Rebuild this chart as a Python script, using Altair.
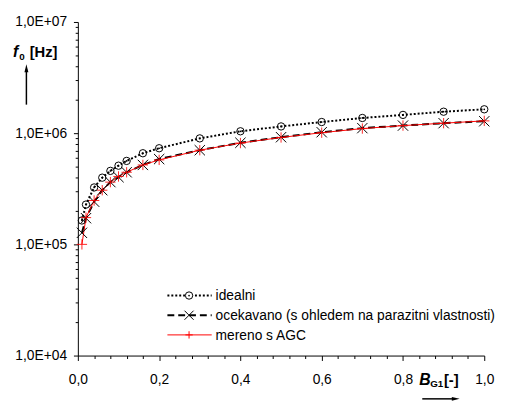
import altair as alt
import pandas as pd

# ---------------- data ----------------
B = [0.01, 0.02, 0.04, 0.06, 0.08, 0.10, 0.12, 0.16, 0.20, 0.30, 0.40, 0.50, 0.60, 0.70, 0.80, 0.90, 1.00]
ideal = [1.64e5, 2.28e5, 3.25e5, 3.98e5, 4.58e5, 5.10e5, 5.63e5, 6.60e5, 7.32e5, 8.98e5,
         1.04e6, 1.15e6, 1.26e6, 1.37e6, 1.46e6, 1.56e6, 1.64e6]
expected = [1.27e5, 1.72e5, 2.42e5, 3.07e5, 3.63e5, 4.02e5, 4.45e5, 5.18e5, 5.85e5, 7.03e5,
            8.20e5, 9.20e5, 1.02e6, 1.11e6, 1.17e6, 1.23e6, 1.28e6]
measured = [1.00e5, 1.74e5, 2.48e5, 3.07e5, 3.63e5, 4.08e5, 4.45e5, 5.18e5, 5.75e5, 7.03e5,
            8.15e5, 9.15e5, 1.01e6, 1.10e6, 1.17e6, 1.23e6, 1.29e6]
series_names = ["idealni", "ocekavano (s ohledem na parazitni vlastnosti)", "mereno s AGC"]

x_major = [0, 0.2, 0.4, 0.6, 0.8, 1]
x_ticks = [round(i * 0.04, 2) for i in range(26)]
y_major = [1e4, 1e5, 1e6, 1e7]
y_tick_labels = ["1,0E+04", "1,0E+05", "1,0E+06", "1,0E+07"]
y_ticks = [m * d for d in [1e4, 1e5, 1e6] for m in range(1, 10)] + [1e7]

FONT = "Liberation Sans"
W, H = 413, 339

df = pd.DataFrame({"B": B, "ideal": ideal, "exp": expected, "meas": measured})

major_x_test = "indexof(%s, datum.value) >= 0" % str(x_major)
major_y_test = "indexof(%s, datum.value) >= 0" % str([int(v) for v in y_major])

y_label_expr = " : ".join(
    "datum.value == %d ? '%s'" % (int(v), lab) for v, lab in zip(y_major, y_tick_labels)
) + " : ''"

x_axis = alt.Axis(
    values=x_ticks,
    labelExpr="%s ? replace(format(datum.value, '.1f'), '.', ',') : ''" % major_x_test,
    tickSize={"condition": {"test": major_x_test, "value": 5}, "value": 3},
    labelPadding=12, labelFlush=False, labelOverlap=False, grid=False, title=None,
)
y_axis = alt.Axis(
    values=y_ticks,
    labelExpr=y_label_expr,
    tickSize={"condition": {"test": major_y_test, "value": 4.5}, "value": 2.7},
    labelPadding=7, labelFlush=False, labelOverlap=False, grid=False, title=None,
)
x_scale = alt.Scale(domain=[0, 1], nice=False, zero=False)
y_scale = alt.Scale(type="log", domain=[1e4, 1e7], nice=False)


def enc(field):
    return dict(
        x=alt.X("B:Q", scale=x_scale, axis=x_axis),
        y=alt.Y(field + ":Q", scale=y_scale, axis=y_axis),
    )


base = alt.Chart(df)
ideal_line = base.mark_line(color="black", strokeDash=[2, 2], strokeWidth=2).encode(**enc("ideal"))
exp_line = base.mark_line(color="black", strokeDash=[7, 4], strokeWidth=2).encode(**enc("exp"))
meas_line = base.mark_line(color="#ff0000", strokeWidth=1).encode(**enc("meas"))
ideal_pts = base.mark_point(shape="circle", filled=False, color="black", size=56,
                            strokeWidth=1, opacity=1).encode(**enc("ideal"))
ideal_dots = base.mark_point(shape="circle", filled=True, color="black", size=3,
                             opacity=1).encode(**enc("ideal"))
XSHAPE = "M-1,-1L1,1M-1,1L1,-1"
PSHAPE = "M-1,0L1,0M0,-1L0,1"
exp_pts = base.mark_point(shape=XSHAPE, filled=False, color="black", size=110,
                          strokeWidth=1, opacity=1).encode(**enc("exp"))
meas_pts = base.mark_point(shape=PSHAPE, filled=False, color="#ff0000", size=110,
                           strokeWidth=1, opacity=0.85).encode(**enc("meas"))

one = alt.Chart(pd.DataFrame({"a": [0]}))


def text(s, x, y, size=14, weight="normal", style="normal"):
    return one.mark_text(text=s, align="left", baseline="alphabetic", font=FONT,
                         fontSize=size, fontWeight=weight, fontStyle=style,
                         color="black").encode(x=alt.value(x), y=alt.value(y))


# legend (drawn by hand)
lx0, lx1, lmx, ltx = 91, 136, 113, 140
rows = [278, 298, 318]
legend = [
    one.mark_rule(color="black", strokeDash=[2, 2], strokeWidth=2).encode(
        x=alt.value(lx0), x2=alt.value(lx1), y=alt.value(rows[0])),
    one.mark_point(shape="circle", filled=True, fill="white", stroke="black", size=56,
                   strokeWidth=1, opacity=1).encode(x=alt.value(lmx), y=alt.value(rows[0])),
    one.mark_point(shape="circle", filled=True, color="black", size=3, opacity=1).encode(
        x=alt.value(lmx), y=alt.value(rows[0])),
    text(series_names[0], ltx, rows[0] + 5),
    one.mark_rule(color="black", strokeDash=[7, 4], strokeWidth=2).encode(
        x=alt.value(lx0), x2=alt.value(lx1), y=alt.value(rows[1])),
    one.mark_point(shape=XSHAPE, filled=False, color="black", size=85, strokeWidth=1,
                   opacity=1).encode(x=alt.value(lmx), y=alt.value(rows[1])),
    text(series_names[1], ltx, rows[1] + 5),
    one.mark_rule(color="#ff0000", strokeWidth=1).encode(
        x=alt.value(lx0), x2=alt.value(lx1), y=alt.value(rows[2])),
    one.mark_point(shape=PSHAPE, filled=False, color="#ff0000", size=55, strokeWidth=1,
                   opacity=1).encode(x=alt.value(lmx), y=alt.value(rows[2])),
    text(series_names[2], ltx, rows[2] + 5),
]

# axis titles with arrows
titles = [
    text("f", -66, 36, size=16, weight="bold", style="italic"),
    text("0", -59.5, 39, size=10, weight="bold"),
    text("[Hz]", -49, 36, size=15, weight="bold"),
    one.mark_rule(color="black", strokeWidth=1.5).encode(
        x=alt.value(-52.3), y=alt.value(48), y2=alt.value(84)),
    one.mark_point(shape="M0,-1L0.5,1L-0.5,1Z", filled=True, color="black", size=64,
                   opacity=1).encode(x=alt.value(-52.3), y=alt.value(47)),
    text("B", 347, 369, size=16, weight="bold", style="italic"),
    text("G1", 358, 371, size=10, weight="bold"),
    text("[-]", 372, 369, size=15, weight="bold"),
    one.mark_rule(color="black", strokeWidth=1.5).encode(
        x=alt.value(350), x2=alt.value(382), y=alt.value(383)),
    one.mark_point(shape="M1,0L-1,0.5L-1,-0.5Z", filled=True, color="black", size=64,
                   opacity=1).encode(x=alt.value(384), y=alt.value(383)),
]

chart = alt.layer(
    ideal_line, exp_line, meas_line, ideal_pts, ideal_dots, exp_pts, meas_pts,
    *legend, *titles,
).properties(
    width=W, height=H,
    autosize=alt.AutoSizeParams(type="none"),
    padding={"left": 71, "top": 11, "right": 16, "bottom": 45},
).configure_view(stroke=None).configure_axis(
    domainColor="black", tickColor="black", labelColor="black", labelFont=FONT,
    labelFontSize=14, domainWidth=1, tickWidth=1,
)

chart.save("out.html", embed_options={"renderer": "svg", "actions": False})
